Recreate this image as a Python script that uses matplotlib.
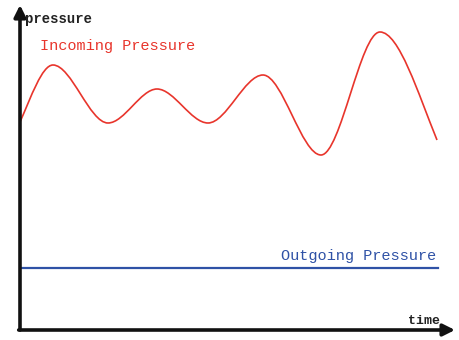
# sketch of incoming vs outgoing pressure over time
import matplotlib
matplotlib.use("Agg")
import matplotlib.pyplot as plt
from matplotlib.path import Path
from matplotlib.patches import PathPatch

# incoming pressure: start, peaks/troughs and end
time_in = [0.0, 3.3, 8.8, 13.7, 18.8, 24.3, 30.1, 36.0, 41.7]
pressure_in = [20.8, 26.5, 20.7, 24.1, 20.7, 25.5, 17.5, 29.8, 19.0]
# outgoing pressure stays flat
time_out = [0.0, 41.8]
pressure_out = [6.2, 6.2]

red = "#e8352c"
blue = "#2f52a6"
mono = "Liberation Mono"

fig = plt.figure(figsize=(4.59, 3.40), dpi=100)
ax = fig.add_axes([20 / 459, 10 / 340, 435 / 459, 325 / 340])
ax.set_xlim(0, 43.5)
ax.set_ylim(0, 32.5)
ax.set_axis_off()

# smooth wave: cubic bezier pieces, flat tangent at each turning point
verts = [(time_in[0], pressure_in[0])]
codes = [Path.MOVETO]
n = len(time_in)
for i in range(n - 1):
    x0, y0 = time_in[i], pressure_in[i]
    x1, y1 = time_in[i + 1], pressure_in[i + 1]
    dx = (x1 - x0) / 3.0
    # end points of the curve are not turning points, give them a slope
    s0 = (y1 - y0) / (x1 - x0) * 1.3 if i == 0 else 0.0
    s1 = (y1 - y0) / (x1 - x0) * 1.3 if i == n - 2 else 0.0
    verts += [(x0 + dx, y0 + s0 * dx), (x1 - dx, y1 - s1 * dx), (x1, y1)]
    codes += [Path.CURVE4] * 3
ax.add_patch(PathPatch(Path(verts, codes), fill=False, edgecolor=red, lw=1.2))

ax.plot(time_out, pressure_out, color=blue, lw=1.6)

# the two axes, drawn as arrows
arrow = dict(arrowstyle="-|>,head_length=0.7,head_width=0.35", color="#111111",
             lw=2.6, shrinkA=0, shrinkB=0)
ax.annotate("", xy=(0, 1.0), xytext=(0, 0), xycoords="axes fraction",
            arrowprops=arrow)
ax.annotate("", xy=(1.0, 0), xytext=(-0.003, 0), xycoords="axes fraction",
            arrowprops=arrow)

ax.text(0.5, 31.1, "pressure", family=mono, fontsize=10, fontweight="bold",
        color="#222222", va="center", ha="left")
ax.text(42.0, 0.9, "time", family=mono, fontsize=9.5, fontweight="bold",
        color="#222222", va="center", ha="right")
ax.text(2.0, 28.4, "Incoming Pressure", family=mono, fontsize=11,
        color=red, va="center", ha="left")
ax.text(41.6, 7.4, "Outgoing Pressure", family=mono, fontsize=11,
        color=blue, va="center", ha="right")

plt.savefig("out.png", dpi=100)
